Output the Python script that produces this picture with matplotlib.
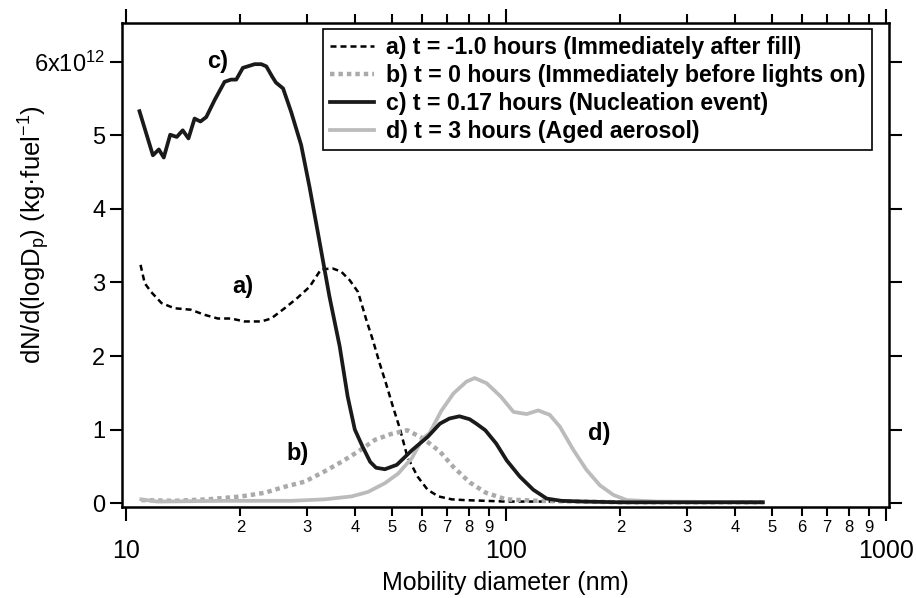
import math
import matplotlib
matplotlib.use("Agg")
import matplotlib.pyplot as plt
from matplotlib.ticker import FixedLocator, FuncFormatter, NullLocator

plt.rcParams['font.family'] = ['Liberation Sans', 'DejaVu Sans']
plt.rcParams['mathtext.fontset'] = 'custom'
plt.rcParams['mathtext.rm'] = 'Liberation Sans'
plt.rcParams['mathtext.it'] = 'Liberation Sans:italic'
plt.rcParams['mathtext.bf'] = 'Liberation Sans:bold'

# values in units of 1e12 (kg-fuel)^-1
a_d = [10.92, 11.2, 11.65, 12.4, 13.4, 14.8, 16.1, 17.45, 18.9, 20.5, 22.7, 24.1, 26.15, 28.1,
       30.4, 32.6, 35.0, 36.8, 38.8, 40.8, 42.9, 44.6, 46.5, 48.3, 50.4, 52.5, 55.0, 58.5, 62.2,
       66.4, 72.0, 77.6, 100, 200, 474]
a_v = [3.24, 2.99, 2.87, 2.72, 2.65, 2.63, 2.56, 2.51, 2.51, 2.47, 2.47, 2.51, 2.65, 2.78,
       2.94, 3.18, 3.19, 3.15, 3.03, 2.87, 2.49, 2.22, 1.90, 1.63, 1.31, 1.02, 0.63, 0.36, 0.18,
       0.09, 0.05, 0.04, 0.02, 0.02, 0.02]

b_d = [10.97, 13.4, 16.4, 20.1, 23.2, 26.1, 29.5, 33.3, 36.9, 40.8, 45.2, 49.9, 55.0, 60.4,
       62.9, 67.0, 72.7, 80.3, 88.5, 100, 121, 200, 474]
b_v = [0.04, 0.03, 0.05, 0.09, 0.14, 0.22, 0.29, 0.43, 0.56, 0.70, 0.86, 0.94, 0.99, 0.88,
       0.81, 0.70, 0.49, 0.28, 0.14, 0.05, 0.03, 0.01, 0.01]

c_d = [10.85, 11.77, 12.2, 12.57, 13.07, 13.6, 14.1, 14.6, 15.15, 15.7, 16.26, 17.1, 18.17,
       18.9, 19.5, 20.3, 20.9, 21.8, 22.7, 23.4, 24.25, 24.8, 25.9, 27.2, 28.9, 30.4, 31.9,
       34.3, 36.5, 38.3, 40.0, 41.9, 43.9, 45.5, 48.0, 51.6, 56.6, 62.2, 67.0, 71.0, 75.4,
       80.2, 83.5, 88.2, 94.2, 100.4, 108.7, 118, 128, 140, 160, 200, 300, 474]
c_v = [5.33, 4.73, 4.81, 4.70, 5.01, 4.98, 5.07, 4.96, 5.23, 5.19, 5.25, 5.48, 5.73,
       5.76, 5.76, 5.92, 5.94, 5.97, 5.97, 5.94, 5.80, 5.72, 5.64, 5.32, 4.87, 4.30, 3.71,
       2.81, 2.13, 1.45, 1.00, 0.77, 0.56, 0.48, 0.46, 0.52, 0.72, 0.90, 1.08, 1.15, 1.18,
       1.14, 1.08, 0.99, 0.81, 0.58, 0.36, 0.18, 0.06, 0.03, 0.02, 0.01, 0.01, 0.01]

d_d = [10.97, 12.1, 18.2, 27.2, 33.3, 39.2, 43.3, 48.0, 52.0, 56.5, 60.4, 62.9, 67.5, 72.7,
       78.6, 82.7, 88.9, 96.8, 104.6, 113.3, 121.5, 130.3, 138.5, 150.5, 162.9, 176.7, 191.7,
       207.8, 250, 474]
d_v = [0.05, 0.02, 0.03, 0.03, 0.05, 0.09, 0.15, 0.27, 0.40, 0.61, 0.88, 0.95, 1.25, 1.49,
       1.65, 1.70, 1.63, 1.45, 1.24, 1.21, 1.26, 1.20, 1.04, 0.72, 0.45, 0.24, 0.11,
       0.04, 0.02, 0.01]

labels = ['a) t = -1.0 hours (Immediately after fill)',
          'b) t = 0 hours (Immediately before lights on)',
          'c) t = 0.17 hours (Nucleation event)',
          'd) t = 3 hours (Aged aerosol)']

annot_text = ['c)', 'a)', 'b)', 'd)']
annot_x = [17.4, 20.3, 28.2, 175.4]
annot_y = [6.0, 2.94, 0.67, 0.94]

y_ticks = [0, 1, 2, 3, 4, 5, 6]
x_major = [10, 100, 1000]
x_minor = [k * 10 ** n for n in (1, 2) for k in range(2, 10)]

fig = plt.figure(figsize=(9.16, 5.98), dpi=100)
ax = fig.add_axes([122 / 916, 1 - 507 / 598, (889 - 122) / 916, (507 - 23) / 598])

la, = ax.plot(a_d, a_v, color='black', lw=1.8, dashes=(2.4, 1.6), label=labels[0])
lb, = ax.plot(b_d, b_v, color='#aaaaaa', lw=3.2, dashes=(1.0, 0.9), dash_capstyle='butt', label=labels[1])
ld, = ax.plot(d_d, d_v, color='#bbbbbb', lw=2.7, label=labels[3])
lc, = ax.plot(c_d, c_v, color='#1a1a1a', lw=2.7, label=labels[2])

for t, x, y in zip(annot_text, annot_x, annot_y):
    ax.text(x, y, t, fontsize=17, fontweight='bold', ha='center', va='center')

ax.set_xscale('log')
ax.set_xlim(9.76, 1018)
ax.set_ylim(-0.054, 6.53)

ax.xaxis.set_major_locator(FixedLocator(x_major))
ax.xaxis.set_minor_locator(FixedLocator(x_minor))
ax.xaxis.set_major_formatter(FuncFormatter(lambda v, p: '%d' % round(v)))
ax.xaxis.set_minor_formatter(FuncFormatter(lambda v, p: '%d' % round(v / 10 ** math.floor(math.log10(v) + 1e-9))))
ax.yaxis.set_major_locator(FixedLocator(y_ticks))
ax.yaxis.set_minor_locator(NullLocator())
ax.yaxis.set_major_formatter(FuncFormatter(lambda v, p: r'6x10$^{12}$' if round(v) == 6 else '%d' % round(v)))

for s in ax.spines.values():
    s.set_linewidth(1.8)

ax.tick_params(axis='both', which='both', direction='out', top=True, right=True, width=1.5)
ax.tick_params(axis='x', which='major', length=10, pad=13, labelsize=18)
ax.tick_params(axis='x', which='minor', length=6.5, pad=3, labelsize=12)
ax.tick_params(axis='y', which='major', length=9, pad=3, labelsize=17)

ax.set_xlabel('Mobility diameter (nm)', fontsize=18)
ax.xaxis.set_label_coords(0.5, (507 - 571) / 484)
ax.set_ylabel(r'dN/d(logD$_\mathrm{p}$) (kg·fuel$^{-1}$)', fontsize=18.5)
ax.yaxis.set_label_coords((52 - 122) / 767, 0.5 + (265 - 235) / 484)

leg = ax.legend(handles=[la, lb, lc, ld], loc='upper left',
                bbox_to_anchor=(323 / 916, 1 - 29 / 598), bbox_transform=fig.transFigure,
                borderaxespad=0, frameon=True, fancybox=False, framealpha=1,
                prop={'weight': 'bold', 'size': 16.7}, handlelength=1.9, handletextpad=0.5,
                labelspacing=0.22, borderpad=0.3)
leg.get_frame().set_edgecolor('black')
leg.get_frame().set_linewidth(1.2)

fig.savefig('out.png', dpi=100)
